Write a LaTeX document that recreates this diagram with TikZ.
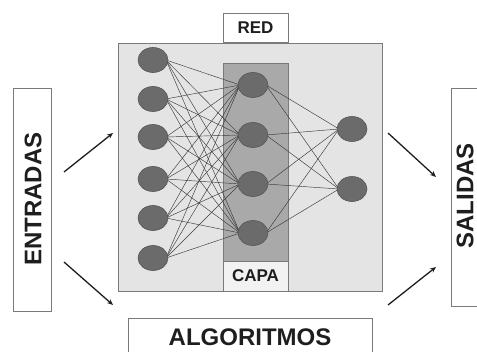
\documentclass[tikz,border=0pt]{standalone}
\usepackage{fontspec}
\setmainfont{Liberation Sans}
\usetikzlibrary{shapes.geometric,arrows.meta}
\definecolor{boxline}{HTML}{7A7A7A}
\definecolor{netbg}{HTML}{E4E4E4}
\definecolor{capabg}{HTML}{A9A9A9}
\definecolor{neuron}{HTML}{6B6B6B}
\definecolor{neuronline}{HTML}{555555}
\definecolor{wire}{HTML}{3A3A3A}
\definecolor{txt}{HTML}{1E1E1E}
\begin{document}
\begin{tikzpicture}[x=1pt,y=-1pt,
  box/.style={draw=boxline,line width=0.9pt,fill=white,inner sep=0pt},
  lbl/.style={font=\bfseries\fontsize{17}{17}\selectfont,text=txt},
  big/.style={font=\bfseries\fontsize{24}{24}\selectfont,text=txt},
  neu/.style={ellipse,draw=neuronline,line width=0.6pt,fill=neuron,minimum width=30pt,minimum height=25pt,inner sep=0pt},
  edge/.style={draw=wire,line width=0.45pt},
  arr/.style={draw=txt,line width=1.3pt,-{Stealth[length=6pt,width=5pt]}}]
\useasboundingbox (0,0) rectangle (477,352);
% main network box
\node[box,fill=netbg,minimum width=264pt,minimum height=248pt] (net) at (250,167) {};
\node[draw=boxline,line width=0.9pt,fill=capabg,minimum width=65pt,minimum height=198pt,inner sep=0pt] (capa) at (255.5,162) {};
\node[box,fill=netbg!50!white,minimum width=65pt,minimum height=30pt,lbl] (capalbl) at (255.5,276) {CAPA};
\node[box,minimum width=65pt,minimum height=29pt,lbl] (red) at (255.5,27.5) {RED};
% side boxes
\node[box,minimum width=38pt,minimum height=223pt] (ent) at (32,199.5) {};
\node[big,rotate=90] (enttxt) at (33,199) {ENTRADAS};
\node[box,minimum width=34pt,minimum height=218pt] (sal) at (468,197) {};
\node[big,rotate=90] (saltxt) at (465,196) {SALIDAS};
\node[box,minimum width=244pt,minimum height=44pt] (alg) at (250,340) {};
\node[big] (algtxt) at (250,337) {ALGORITMOS};
% neuron positions
\foreach \i/\y in {1/60,2/99,3/137,4/179,5/218,6/258}
  \coordinate (i\i) at (153,\y);
\foreach \j/\y in {1/85,2/135,3/184,4/233}
  \coordinate (h\j) at (253,\y);
\foreach \k/\y in {1/129,2/189}
  \coordinate (o\k) at (352,\y);
% connections
\foreach \i in {1,...,6}
  \foreach \j in {1,...,4}
    \draw[edge] ([xshift=13pt]i\i) -- ([xshift=-13pt]h\j);
\foreach \j in {1,...,4}
  \foreach \k in {1,2}
    \draw[edge] ([xshift=13pt]h\j) -- ([xshift=-13pt]o\k);
% neurons on top
\foreach \i in {1,...,6}
  \node[neu] (ni\i) at (i\i) {};
\foreach \j in {1,...,4}
  \node[neu] (nh\j) at (h\j) {};
\foreach \k in {1,2}
  \node[neu] (no\k) at (o\k) {};
% arrows
\coordinate (a1s) at (64,172); \coordinate (a1e) at (113,133);
\coordinate (a2s) at (64,262); \coordinate (a2e) at (113,305);
\coordinate (a3s) at (388,133); \coordinate (a3e) at (436,177);
\coordinate (a4s) at (388,305); \coordinate (a4e) at (436,267);
\draw[arr] (a1s) -- (a1e);
\draw[arr] (a2s) -- (a2e);
\draw[arr] (a3s) -- (a3e);
\draw[arr] (a4s) -- (a4e);
\end{tikzpicture}
\end{document}
